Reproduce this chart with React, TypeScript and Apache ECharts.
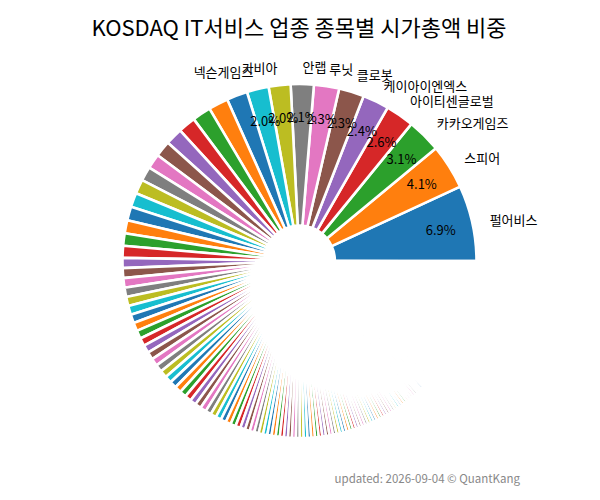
import React, { useEffect, useRef } from 'react'
import * as echarts from 'echarts'

const FONT = "'Noto Sans CJK KR', 'Noto Sans', sans-serif"

// 라벨이 붙는 상위 10개 종목
const labelNames = ['펄어비스', '스피어', '카카오게임즈', '아이티센글로벌', '케이아이엔엑스', '클로봇', '루닛', '안랩', '가비아', '넥슨게임즈']
const labeledShares = [6.9, 4.1, 3.1, 2.6, 2.4, 2.3, 2.3, 2.1, 2.0, 2.0]

// 11 ~ 59위
const midShares = [
  1.9, 1.8, 1.7, 1.6, 1.55, 1.45, 1.35, 1.3, 1.3, 1.3,
  1.25, 1.2, 1.13, 1.09,
  0.92, 0.9, 0.87, 0.85, 0.83, 0.81, 0.79, 0.77, 0.75, 0.73, 0.71, 0.70,
  0.69, 0.67, 0.66, 0.64, 0.63, 0.61, 0.60, 0.59, 0.57, 0.56, 0.55, 0.53,
  0.52, 0.51, 0.49, 0.48, 0.47, 0.46, 0.45, 0.44, 0.42, 0.41, 0.40,
]

// 60 ~ 94위
const smallShares = [
  0.39, 0.385, 0.38, 0.375, 0.37, 0.365, 0.36, 0.355, 0.35, 0.35,
  0.345, 0.34, 0.34, 0.335, 0.33, 0.33, 0.325, 0.32, 0.32, 0.315,
  0.31, 0.31, 0.305, 0.30, 0.30, 0.295, 0.29, 0.29, 0.285, 0.285,
  0.28, 0.28, 0.28, 0.275, 0.275,
]

// 나머지 소형주 (테두리에 가려 거의 보이지 않음)
const tailShares = [
  0.27, 0.27, 0.27, 0.26, 0.26, 0.26, 0.26, 0.26, 0.25, 0.25,
  0.25, 0.25, 0.25, 0.25, 0.24, 0.24, 0.24, 0.24, 0.24, 0.23,
  0.24, 0.23, 0.23, 0.23, 0.23, 0.22, 0.22, 0.22, 0.22, 0.22,
  0.22, 0.21, 0.21, 0.21, 0.21, 0.21, 0.2, 0.2, 0.2, 0.19,
  0.2, 0.2, 0.2, 0.19, 0.19, 0.19, 0.19, 0.18, 0.18, 0.18,
  0.18, 0.18, 0.17, 0.17, 0.17, 0.16, 0.16, 0.16, 0.15,
  0.17, 0.17, 0.16, 0.16, 0.16, 0.15, 0.15, 0.15, 0.14, 0.14,
  0.14, 0.13, 0.13, 0.13, 0.12, 0.12, 0.12, 0.11, 0.11, 0.11,
  0.1, 0.1, 0.1, 0.09, 0.09, 0.09, 0.08, 0.08, 0.08, 0.07,
  0.07, 0.07, 0.06, 0.06, 0.06, 0.05, 0.05, 0.05, 0.04, 0.04,
]

const palette = ['#1f77b4', '#ff7f0e', '#2ca02c', '#d62728', '#9467bd', '#8c564b', '#e377c2', '#7f7f7f', '#bcbd22', '#17becf']

const TITLE = 'KOSDAQ IT서비스 업종 종목별 시가총액 비중'
const FOOTER = 'updated: 2026-09-04 © QuantKang'

const App: React.FC = () => {
  const ref = useRef<HTMLDivElement>(null)

  useEffect(() => {
    if (!ref.current) return
    const chart = echarts.init(ref.current, undefined, { renderer: 'svg' })

    const shares = [...labeledShares, ...midShares, ...smallShares, ...tailShares]
    const center = [299.5, 261]
    const outer = 177

    chart.setOption({
      animation: false,
      backgroundColor: '#fff',
      graphic: [
        {
          type: 'text', x: 299, y: 26,
          style: { text: TITLE, fill: '#000', font: `22px ${FONT}`, textAlign: 'center', textVerticalAlign: 'middle' },
        },
        {
          type: 'text', x: 520, y: 478,
          style: { text: FOOTER, fill: '#888', font: `11.5px ${FONT}`, textAlign: 'right', textVerticalAlign: 'middle' },
        },
      ],
      series: [
        {
          // 도넛 + 종목명 (바깥)
          type: 'pie',
          silent: true,
          center,
          radius: [outer * 0.2, outer],
          startAngle: 0,
          clockwise: false,
          avoidLabelOverlap: false,
          labelLayout: { hideOverlap: false },
          itemStyle: { borderColor: '#fff', borderWidth: 2.6 },
          label: { show: false, position: 'outside', color: '#000', fontSize: 13, fontFamily: FONT, distanceToLabelLine: 0 },
          labelLine: { show: false, length: outer * 0.1, length2: 0 },
          data: shares.map((v, i) => ({
            value: v,
            name: labelNames[i] ?? '',
            itemStyle: { color: palette[i % palette.length] },
            label: { show: i < labelNames.length },
          })),
        },
        {
          // 비중(%) 라벨 — 반지름 0.8 위치
          type: 'pie',
          silent: true,
          center,
          radius: [outer * 0.6, outer],
          startAngle: 0,
          clockwise: false,
          avoidLabelOverlap: false,
          labelLayout: { hideOverlap: false },
          itemStyle: { color: 'rgba(0,0,0,0)', borderWidth: 0 },
          label: {
            show: false, position: 'inside', color: '#000', fontSize: 13, fontFamily: FONT,
            formatter: (p: any) => `${Number(p.value).toFixed(1)}%`,
          },
          labelLine: { show: false },
          data: shares.map((v, i) => ({
            value: v,
            name: labelNames[i] ?? '',
            label: { show: i < labelNames.length },
          })),
        },
      ],
    })

    return () => chart.dispose()
  }, [])

  return <div ref={ref} style={{ position: 'fixed', left: 0, top: 0, width: 600, height: 500 }} />
}

export default App
